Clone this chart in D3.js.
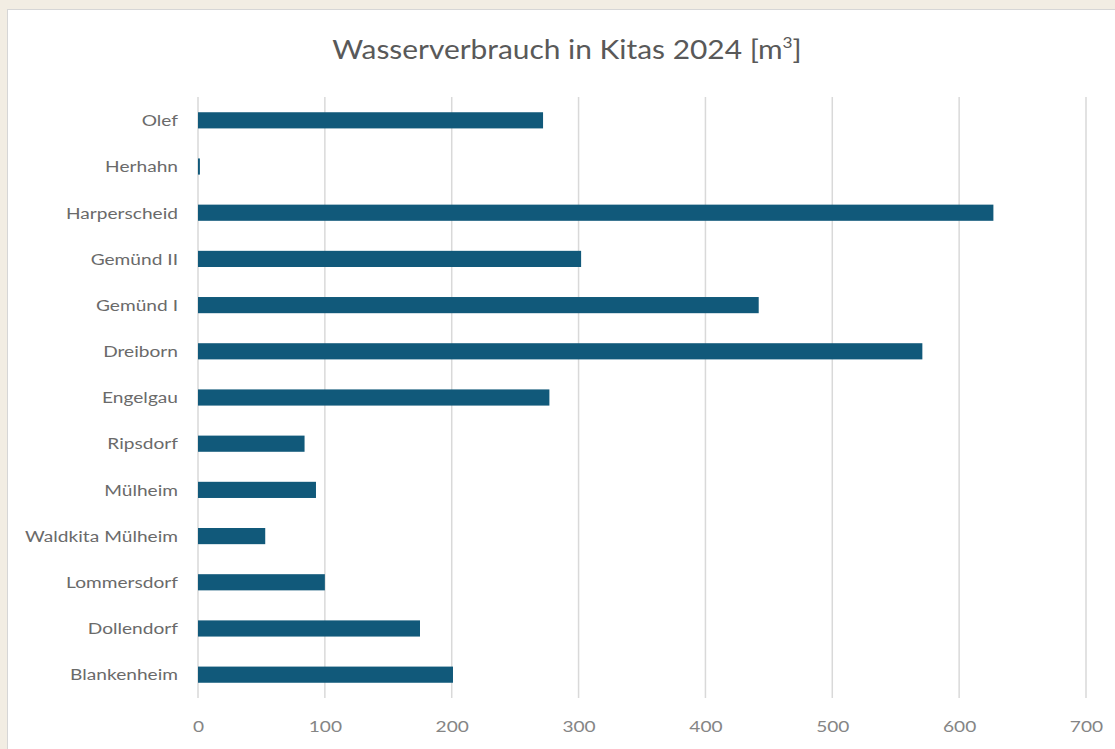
<!DOCTYPE html>
<html>
<head>
<meta charset="utf-8">
<script src="https://cdn.jsdelivr.net/npm/d3@7"></script>
<style>
  html, body { margin: 0; padding: 0; background: #f2ede3; }
  svg { display: block; }
</style>
</head>
<body>
<svg id="bar"></svg>
<script>
// values (m³)
let kitas = ["Olef", "Herhahn", "Harperscheid", "Gemünd II", "Gemünd I", "Dreiborn", "Engelgau",
             "Ripsdorf", "Mülheim", "Waldkita Mülheim", "Lommersdorf", "Dollendorf", "Blankenheim"];
let verbrauch = [272, 1.5, 627, 302, 442, 571, 277, 84, 93, 53, 100, 175, 201];
let xTicks = [0, 100, 200, 300, 400, 500, 600, 700];

const width = 1115;
const height = 749;
// the reference text looks stretched sideways
const stretch = 1.32;

let svg = d3.select("svg#bar")
  .attr("width", width)
  .attr("height", height);

// white chart panel on the paper background
svg.append("rect")
  .attr("x", 7.5).attr("y", 9.5)
  .attr("width", width).attr("height", height)
  .attr("fill", "#ffffff")
  .attr("stroke", "#d6d6d6");

let title = svg.append("g")
  .attr("transform", "translate(567,59) scale(1.15,1)")
  .append("text")
  .attr("text-anchor", "middle")
  .attr("font-family", "Lato, 'Open Sans', sans-serif")
  .attr("font-size", 26)
  .attr("fill", "#595959")
  .text("Wasserverbrauch in Kitas 2024 [m");
title.append("tspan").attr("dy", -11).attr("font-size", 15).text("3");
title.append("tspan").attr("dy", 11).text("]");

let margin = { top: 97, right: 29, bottom: 51, left: 198 };
let plotWidth = width - margin.left - margin.right;
let plotHeight = height - margin.top - margin.bottom;

let xScale = d3.scaleLinear()
  .domain([0, 700])
  .range([0, plotWidth]);

let yScale = d3.scaleBand()
  .domain(kitas)
  .range([0, plotHeight])
  .paddingInner(0.65)
  .paddingOuter(0.33);

let plot = svg.append("g")
  .attr("transform", "translate(" + margin.left + "," + margin.top + ")");

// gridlines
plot.append("g")
  .selectAll("line")
  .data(xTicks)
  .join("line")
  .attr("x1", d => xScale(d)).attr("x2", d => xScale(d))
  .attr("y1", 0).attr("y2", plotHeight)
  .attr("stroke", "#d9d9d9")
  .attr("stroke-width", 1.5);

let xAxis = d3.axisBottom(xScale).tickValues(xTicks).tickSize(0).tickPadding(24);
let xGroup = plot.append("g")
  .attr("transform", "translate(0," + plotHeight + ")")
  .call(xAxis);
xGroup.select(".domain").remove();
xGroup.selectAll("text")
  .attr("font-family", "Lato, 'Open Sans', sans-serif")
  .attr("font-size", 14.5)
  .attr("fill", "#858585")
  .attr("transform", "scale(" + stretch + ",1)");

let yAxis = d3.axisLeft(yScale).tickSize(0).tickPadding(20);
let yGroup = plot.append("g").call(yAxis);
yGroup.select(".domain").remove();
yGroup.selectAll("text")
  .attr("font-family", "Lato, 'Open Sans', sans-serif")
  .attr("font-size", 14.5)
  .attr("fill", "#6a6a6a")
  .attr("x", -20 / stretch)
  .attr("dy", "0.4em")
  .attr("transform", "scale(" + stretch + ",1)");

let pairs = kitas.map((k, i) => [k, verbrauch[i]]);

plot.selectAll("rect.bar")
  .data(pairs)
  .join("rect")
  .attr("class", "bar")
  .attr("x", 0)
  .attr("y", d => yScale(d[0]))
  .attr("width", d => xScale(d[1]))
  .attr("height", yScale.bandwidth())
  .attr("fill", "#11597a");
</script>
</body>
</html>
